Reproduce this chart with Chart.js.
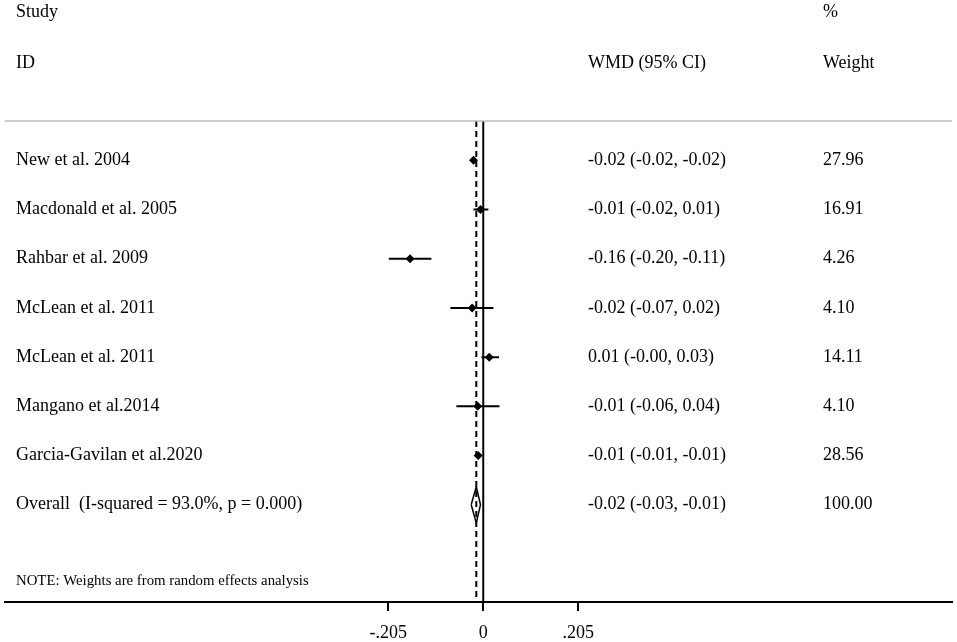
<!DOCTYPE html>
<html>
<head>
<meta charset="utf-8">
<script src="https://cdn.jsdelivr.net/npm/chart.js@4"></script>
<style>
  html, body { margin: 0; padding: 0; background: #fff; }
  #wrap { width: 957px; height: 642px; position: relative; }
</style>
</head>
<body>
<div id="wrap"><canvas id="forestChart"></canvas></div>
<script>
const studies = ['New et al. 2004', 'Macdonald et al. 2005', 'Rahbar et al. 2009', 'McLean et al. 2011',
                 'McLean et al. 2011', 'Mangano et al.2014', 'Garcia-Gavilan et al.2020'];
const estimates = [-0.021, -0.006, -0.158, -0.024, 0.013, -0.012, -0.011];
const lowerCI = [-0.023, -0.021, -0.204, -0.071, -0.004, -0.058, -0.013];
const upperCI = [-0.019, 0.011, -0.112, 0.022, 0.034, 0.035, -0.009];
const ciLabels = ['-0.02 (-0.02, -0.02)', '-0.01 (-0.02, 0.01)', '-0.16 (-0.20, -0.11)', '-0.02 (-0.07, 0.02)',
                  '0.01 (-0.00, 0.03)', '-0.01 (-0.06, 0.04)', '-0.01 (-0.01, -0.01)'];
const weights = ['27.96', '16.91', '4.26', '4.10', '14.11', '4.10', '28.56'];

const overallLabel = 'Overall  (I-squared = 93.0%, p = 0.000)';
const overallEst = -0.015;
const overallLo = -0.026;
const overallHi = -0.006;
const overallCI = '-0.02 (-0.03, -0.01)';
const overallWeight = '100.00';

const tickValues = [-0.205, 0, 0.205];
const tickLabels = ['-.205', '0', '.205'];
const note = 'NOTE: Weights are from random effects analysis';

// layout in row units (row 0 = first study)
const X_MIN = -1.0336, X_MAX = 1.012;
const Y_MIN = -3.167, Y_MAX = 8.977;
const HEADER1 = -3.0, HEADER2 = -1.97, TOPLINE = -0.8, NOTE_ROW = 8.55;
const overallRow = studies.length;
const FONT = '"Liberation Serif", "Times New Roman", serif';

const datasets = [];

// top separator line
datasets.push({
    data: [{x: X_MIN, y: TOPLINE}, {x: X_MAX, y: TOPLINE}],
    showLine: true, borderColor: '#bdbdbd', borderWidth: 1.5, pointRadius: 0
});
// no-effect line
datasets.push({
    data: [{x: 0, y: TOPLINE}, {x: 0, y: Y_MAX}],
    showLine: true, borderColor: '#000', borderWidth: 2, pointRadius: 0
});
// overall effect dashed line
datasets.push({
    data: [{x: overallEst, y: TOPLINE}, {x: overallEst, y: Y_MAX}],
    showLine: true, borderColor: '#000', borderWidth: 2, borderDash: [6, 4], pointRadius: 0
});
// confidence intervals
studies.forEach(function(s, i) {
    datasets.push({
        data: [{x: lowerCI[i], y: i}, {x: upperCI[i], y: i}],
        showLine: true, borderColor: '#000', borderWidth: 2, pointRadius: 0
    });
});
// point estimates
datasets.push({
    data: estimates.map(function(v, i) { return {x: v, y: i}; }),
    pointStyle: 'rectRot', pointRadius: 4.5, backgroundColor: '#000', borderColor: '#000', borderWidth: 0
});
// overall diamond
const h = 0.37;
datasets.push({
    data: [{x: overallLo, y: overallRow}, {x: overallEst, y: overallRow - h}, {x: overallHi, y: overallRow},
           {x: overallEst, y: overallRow + h}, {x: overallLo, y: overallRow}],
    showLine: true, borderColor: '#000', borderWidth: 1.5, pointRadius: 0, tension: 0
});

const textPlugin = {
    id: 'forestText',
    afterDatasetsDraw(chart) {
        const ctx = chart.ctx;
        const y = chart.scales.y;
        ctx.save();
        ctx.fillStyle = '#000';
        ctx.textBaseline = 'middle';
        ctx.textAlign = 'left';
        ctx.font = '18px ' + FONT;
        const colName = 16, colCI = 588, colW = 823;
        ctx.fillText('Study', colName, y.getPixelForValue(HEADER1));
        ctx.fillText('ID', colName, y.getPixelForValue(HEADER2));
        ctx.fillText('WMD (95% CI)', colCI, y.getPixelForValue(HEADER2));
        ctx.fillText('%', colW, y.getPixelForValue(HEADER1));
        ctx.fillText('Weight', colW, y.getPixelForValue(HEADER2));
        studies.forEach(function(s, i) {
            const py = y.getPixelForValue(i);
            ctx.fillText(s, colName, py);
            ctx.fillText(ciLabels[i], colCI, py);
            ctx.fillText(weights[i], colW, py);
        });
        const oy = y.getPixelForValue(overallRow);
        ctx.fillText(overallLabel, colName, oy);
        ctx.fillText(overallCI, colCI, oy);
        ctx.fillText(overallWeight, colW, oy);
        ctx.font = '14.8px ' + FONT;
        ctx.fillText(note, colName, y.getPixelForValue(NOTE_ROW));
        ctx.restore();
    }
};

new Chart(document.getElementById('forestChart').getContext('2d'), {
    type: 'scatter',
    data: { datasets: datasets },
    plugins: [textPlugin],
    options: {
        responsive: true,
        maintainAspectRatio: false,
        animation: false,
        layout: { padding: { left: 4, right: 5, top: 0, bottom: 0 } },
        plugins: { legend: { display: false }, tooltip: { enabled: false } },
        scales: {
            x: {
                type: 'linear',
                min: X_MIN,
                max: X_MAX,
                afterBuildTicks: function(scale) {
                    scale.ticks = tickValues.map(function(v) { return {value: v}; });
                },
                afterFit: function(scale) { scale.height = 40; },
                border: { display: true, color: '#000', width: 2 },
                grid: { drawOnChartArea: false, drawTicks: true, tickLength: 9, color: '#000', lineWidth: 2 },
                ticks: {
                    color: '#000',
                    padding: 11,
                    maxRotation: 0,
                    font: { family: FONT, size: 18 },
                    callback: function(v) {
                        const k = tickValues.indexOf(v);
                        return k >= 0 ? tickLabels[k] : '';
                    }
                }
            },
            y: {
                type: 'linear',
                display: false,
                reverse: true,
                min: Y_MIN,
                max: Y_MAX
            }
        }
    }
});
</script>
</body>
</html>
